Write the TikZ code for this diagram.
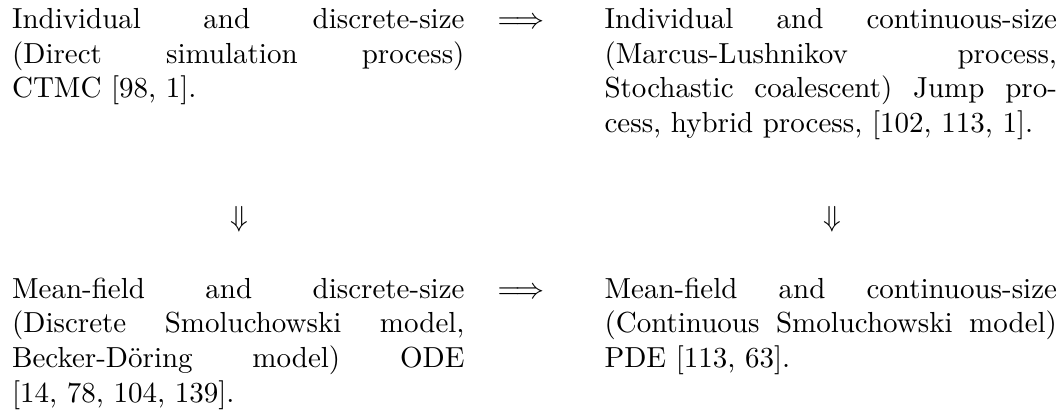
\documentclass[tikz,border=0pt]{standalone}
\usepackage{fontspec}
\tikzset{
  cell/.style={inner sep=0pt, anchor=base west},
  sym/.style={inner sep=0pt, anchor=base west},
  vsym/.style={inner sep=0pt, anchor=base}
}
\newcommand{\cellbox}[1]{\parbox[t]{156pt}{#1}}
\begin{document}
\begin{tikzpicture}[x=0.3448pt, y=-0.3448pt]
\useasboundingbox (0,0) rectangle (1063,414);
\node[cell] (ld) at (11.5,28.3) {\cellbox{Individual and discrete-size\linebreak{} (Direct simulation process)\linebreak{} CTMC [98, 1].}};
\node[cell] (lc) at (604,28.3) {\cellbox{Individual and continuous-size\linebreak{} (Marcus-Lushnikov process,\linebreak{} Stochastic coalescent) Jump pro-\linebreak{}cess, hybrid process, [102, 113, 1].}};
\node[cell] (md) at (11.5,298) {\cellbox{Mean-field and discrete-size\linebreak{} (Discrete Smoluchowski model,\linebreak{} Becker-Döring model) ODE\linebreak{} [14, 78, 104, 139].}};
\node[cell] (mc) at (604,298) {\cellbox{Mean-field and continuous-size\linebreak{} (Continuous Smoluchowski model)\linebreak{} PDE [113, 63].}};
\node[sym] (a1) at (497,28.3) {$\Longrightarrow$};
\node[sym] (a2) at (497,298) {$\Longrightarrow$};
\node[vsym] (d1) at (239,226) {$\Downarrow$};
\node[vsym] (d2) at (832,226) {$\Downarrow$};
\end{tikzpicture}
\end{document}
